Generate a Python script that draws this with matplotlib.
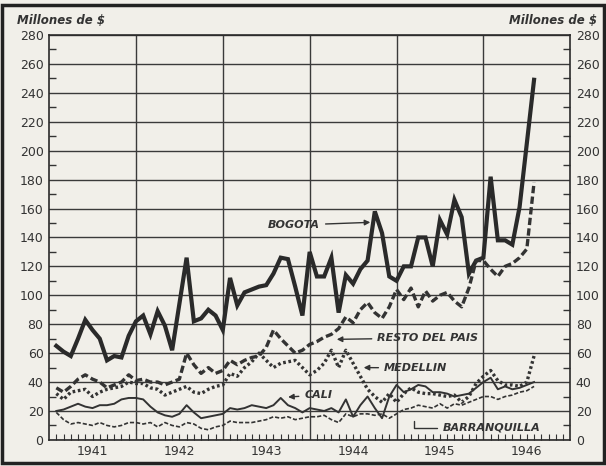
import matplotlib.pyplot as plt
from matplotlib.patches import Rectangle
from matplotlib.transforms import blended_transform_factory

# meses desde enero 1941 hasta julio 1946
meses = list(range(67))
anos = [1941, 1942, 1943, 1944, 1945, 1946]

bogota = [65, 61, 58, 70, 83, 76, 70, 55, 58, 57, 72, 82,
          86, 73, 89, 79, 62, 94, 126, 82, 84, 90, 86, 76,
          112, 93, 102, 104, 106, 107, 115, 126, 125, 106, 86, 130,
          113, 113, 126, 88, 114, 108, 118, 124, 158, 143, 113, 110,
          120, 120, 140, 140, 120, 152, 142, 166, 154, 115, 124, 126,
          182, 138, 138, 135, 161, 205, 249]
resto = [36, 33, 37, 42, 45, 42, 40, 36, 38, 40, 45, 41,
         42, 40, 40, 38, 40, 42, 60, 52, 46, 50, 46, 48,
         55, 52, 55, 57, 58, 64, 76, 70, 65, 60, 62, 66,
         68, 71, 73, 77, 85, 81, 90, 95, 88, 84, 92, 104,
         97, 105, 92, 103, 96, 100, 102, 96, 92, 105, 124, 124,
         118, 113, 120, 122, 126, 132, 178]
medellin = [32, 28, 33, 34, 35, 30, 33, 35, 36, 37, 40, 39,
            39, 36, 35, 31, 33, 35, 37, 33, 32, 35, 37, 38,
            46, 44, 50, 54, 60, 55, 50, 53, 54, 55, 50, 45,
            48, 53, 62, 50, 62, 53, 44, 35, 30, 26, 32, 26,
            32, 36, 33, 32, 32, 31, 30, 31, 26, 30, 39, 44,
            48, 41, 38, 38, 37, 40, 58]
cali = [20, 21, 23, 25, 23, 22, 24, 24, 25, 28, 29, 29,
        28, 23, 19, 17, 16, 18, 24, 19, 15, 16, 17, 18,
        22, 21, 22, 24, 23, 22, 24, 29, 24, 22, 19, 22,
        21, 20, 22, 19, 28, 16, 24, 30, 22, 15, 30, 38,
        33, 35, 38, 37, 33, 33, 32, 30, 31, 32, 36, 40,
        43, 35, 37, 35, 36, 38, 40]
barranquilla = [19, 14, 11, 12, 11, 10, 12, 10, 9, 10, 12, 12,
                11, 12, 9, 12, 10, 9, 12, 11, 8, 7, 9, 10,
                13, 12, 12, 12, 13, 14, 16, 15, 16, 14, 15, 16,
                16, 17, 14, 12, 18, 16, 18, 18, 17, 18, 15, 18,
                21, 22, 24, 23, 22, 25, 22, 25, 24, 26, 28, 30,
                30, 28, 30, 31, 33, 34, 37]

x = [1941 + (m + 1) / 12 for m in meses]

fondo = '#f1efe9'
tinta = '#333333'

fig = plt.figure(figsize=(6.06, 4.66), dpi=100, facecolor=fondo)
ax = fig.add_axes([0.081, 0.056, 0.860, 0.869], facecolor=fondo)
fig.add_artist(Rectangle((0.004, 0.006), 0.992, 0.984, transform=fig.transFigure,
                         fill=False, lw=2.5, ec='#222222'))

ax.plot(x, bogota, color='#2a2a2a', lw=3.0, solid_joinstyle='miter')
ax.plot(x, resto, color=tinta, lw=2.4, dashes=(2.2, 1.0))
ax.plot(x, medellin, color=tinta, lw=2.4, dashes=(0.8, 0.8))
ax.plot(x, cali, color=tinta, lw=1.4)
ax.plot(x, barranquilla, color=tinta, lw=1.2, dashes=(2.5, 1.2))

ax.set_xlim(1941, 1947)
ax.set_ylim(0, 280)
ax.set_xticks(anos[1:])
ax.set_xticklabels([])
ax.set_xticks([1941 + m / 12 for m in range(1, 72)], minor=True)
ax.set_yticks(range(0, 281, 20))
ax.set_yticks(range(10, 280, 20), minor=True)
ax.grid(True, which='major', color='#3a3a3a', lw=1.0)
ax.tick_params(axis='x', which='major', length=0)
ax.tick_params(axis='x', which='minor', direction='in', length=4, width=0.8, color=tinta)
ax.tick_params(axis='y', which='major', length=0, labelsize=9, labelcolor=tinta,
               left=True, right=True, labelleft=True, labelright=True, pad=4)
ax.tick_params(axis='y', which='minor', direction='in', length=5, width=1,
               left=True, right=True, color=tinta)
for s in ax.spines.values():
    s.set_color('#2a2a2a')
    s.set_linewidth(1.2)

trans = blended_transform_factory(ax.transData, ax.transAxes)
for a in anos:
    ax.text(a + 0.5, -0.012, str(a), transform=trans, ha='center', va='top',
            fontsize=9, color=tinta)

fig.text(0.028, 0.955, 'Millones de $', fontsize=8.5, style='italic',
         fontweight='bold', color=tinta, ha='left', va='center')
fig.text(0.985, 0.955, 'Millones de $', fontsize=8.5, style='italic',
         fontweight='bold', color=tinta, ha='right', va='center')

etiqueta = dict(fontsize=8, style='italic', fontweight='bold', color=tinta)
flecha = dict(arrowstyle='-|>', color=tinta, lw=1.0, mutation_scale=8)
ax.annotate('BOGOTA', xy=(1944.73, 150.5), xytext=(1943.82, 148.5),
            ha='center', va='center', arrowprops=flecha, **etiqueta)
ax.annotate('RESTO DEL PAIS', xy=(1944.28, 69.5), xytext=(1945.36, 70.5),
            ha='center', va='center', arrowprops=flecha, **etiqueta)
ax.annotate('MEDELLIN', xy=(1944.59, 50), xytext=(1945.22, 49.8),
            ha='center', va='center', arrowprops=flecha, **etiqueta)
ax.annotate('CALI', xy=(1943.72, 29.5), xytext=(1944.1, 31),
            ha='center', va='center', arrowprops=flecha, **etiqueta)
ax.annotate('BARRANQUILLA', xy=(1945.2, 15), xytext=(1946.09, 8.3),
            ha='center', va='center', **etiqueta,
            arrowprops=dict(arrowstyle='-', color=tinta, lw=1.0,
                            connectionstyle='angle,angleA=0,angleB=90,rad=0'))

fig.savefig('out.png', dpi=100, facecolor=fondo)
